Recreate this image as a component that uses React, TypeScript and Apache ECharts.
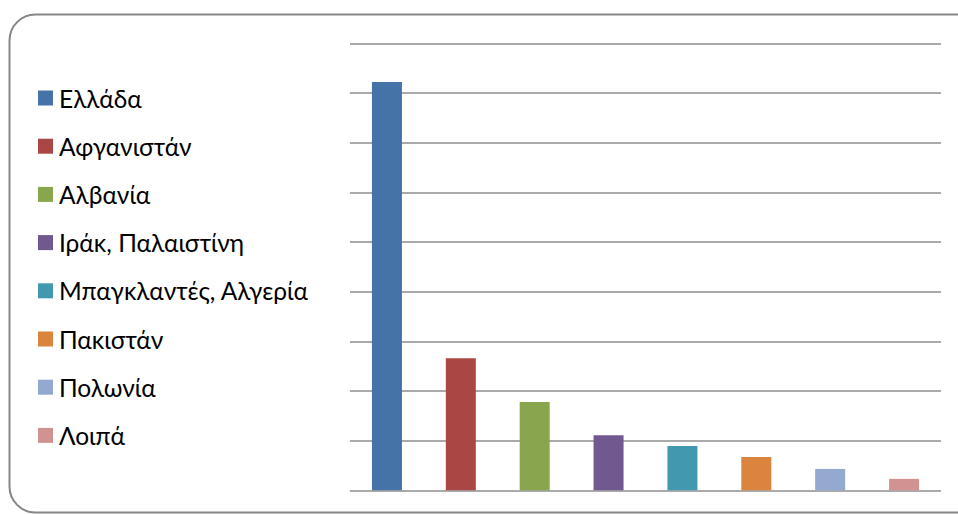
import React, { useEffect, useRef } from "react";
import * as echarts from "echarts";

const categories = [
  "Ελλάδα",
  "Αφγανιστάν",
  "Αλβανία",
  "Ιράκ, Παλαιστίνη",
  "Μπαγκλαντές, Αλγερία",
  "Πακιστάν",
  "Πολωνία",
  "Λοιπά",
];
const values = [82.2, 26.6, 17.8, 11.1, 8.9, 6.7, 4.3, 2.3];
const colors = ["#4572A7", "#AA4643", "#89A54E", "#71588F", "#4198AF", "#DB843D", "#93A9CF", "#D19392"];

export default function App() {
  const ref = useRef<HTMLDivElement>(null);
  useEffect(() => {
    if (!ref.current) return;
    const chart = echarts.init(ref.current, null, { renderer: "svg" });
    const series = categories.map((name, i) => ({
      name,
      type: "bar",
      stack: "all",
      barWidth: 30,
      itemStyle: { color: colors[i] },
      data: categories.map((_, j) => (j === i ? values[i] : null)),
    }));
    chart.setOption({
      animation: false,
      backgroundColor: "#ffffff",
      graphic: [
        {
          type: "rect",
          shape: { x: 9.5, y: 14.5, width: 975, height: 498, r: 26 },
          style: { fill: "none", stroke: "#868686", lineWidth: 2 },
          z: -1,
        },
      ],
      legend: {
        orient: "vertical",
        left: 38,
        top: 85.5,
        padding: 0,
        icon: "rect",
        itemWidth: 15,
        itemHeight: 15,
        itemGap: 23.2,
        data: categories,
        textStyle: {
          fontFamily: "Lato, 'Open Sans', sans-serif",
          fontSize: 24.5,
          color: "#000000",
          padding: [0, 0, 0, 1],
          lineHeight: 24,
        },
      },
      grid: { left: 350, right: 17, top: 43.3, bottom: 23.7 },
      xAxis: {
        type: "category",
        data: categories,
        axisLine: { show: false },
        axisTick: { show: false },
        axisLabel: { show: false },
      },
      yAxis: {
        type: "value",
        min: 0,
        max: 90,
        interval: 10,
        axisLine: { show: false },
        axisTick: { show: false },
        axisLabel: { show: false },
        splitLine: { lineStyle: { color: "#8e8e8e", width: 1.6 } },
      },
      series,
    });
    return () => chart.dispose();
  }, []);
  return (
    <div
      ref={ref}
      style={{ position: "fixed", left: 0, top: 0, width: 958, height: 514 }}
    />
  );
}
